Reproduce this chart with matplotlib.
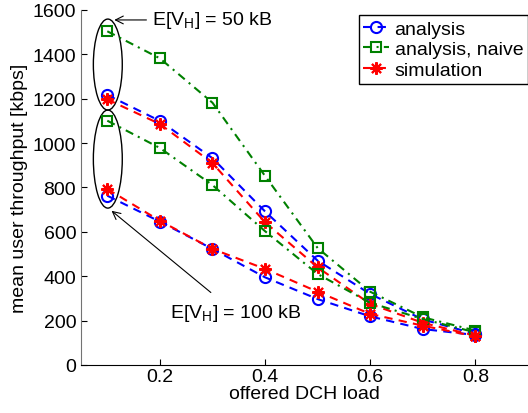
import matplotlib.pyplot as plt
from matplotlib.patches import Ellipse

plt.rcParams['font.family'] = ['Liberation Sans', 'DejaVu Sans']
plt.rcParams['font.size'] = 14

load = [0.1, 0.2, 0.3, 0.4, 0.5, 0.6, 0.7, 0.8]

# E[V_H] = 50 kB
ana50 = [1217, 1100, 932, 692, 470, 320, 205, 140]
naive50 = [1504, 1382, 1182, 852, 527, 330, 215, 155]
sim50 = [1197, 1086, 910, 643, 440, 275, 190, 132]

# E[V_H] = 100 kB
ana100 = [763, 646, 523, 395, 297, 219, 162, 135]
naive100 = [1101, 978, 811, 603, 410, 280, 207, 147]
sim100 = [793, 650, 523, 433, 330, 230, 177, 129]

blue = (0, 0, 1)
green = (0, 0.5, 0)
red = (1, 0, 0)
ast = (8, 2, 0)  # matlab style asterisk
dash = (0, (4, 3))
dashdot = (0, (4, 2.5, 1, 2.5))

fig = plt.figure(figsize=(5.28, 4.14), dpi=100)
ax = fig.add_axes([0.1534, 0.116, 0.8466, 0.8575])

for a, n, s, lab in [(ana50, naive50, sim50, True), (ana100, naive100, sim100, False)]:
    ax.plot(load, a, marker='o', ls=dash, color=blue, mfc='none', ms=8, mew=1.5, lw=1.5,
            label='analysis' if lab else None)
    ax.plot(load, n, marker='s', ls=dashdot, color=green, mfc='none', ms=7, mew=1.5, lw=1.5,
            label='analysis, naive' if lab else None)
    ax.plot(load, s, marker=ast, ls=dash, color=red, ms=9, mew=1.5, lw=1.5,
            label='simulation' if lab else None)

ax.add_patch(Ellipse((0.101, 1354), 0.055, 410, fill=False, ec='black', lw=1))
ax.add_patch(Ellipse((0.101, 928), 0.055, 442, fill=False, ec='black', lw=1))

ax.annotate('E[V$_\\mathregular{H}$] = 50 kB', xy=(0.108, 1555), xytext=(0.185, 1555),
            va='center', ha='left',
            arrowprops=dict(arrowstyle='->', color='black', lw=0.8))
ax.annotate('E[V$_\\mathregular{H}$] = 100 kB', xy=(0.104, 703), xytext=(0.219, 235),
            va='center', ha='left',
            arrowprops=dict(arrowstyle='->', color='black', lw=0.8, shrinkA=8))

ax.set_xlim(0.05, 0.9)
ax.set_ylim(0, 1600)
ax.set_xticks([0.2, 0.4, 0.6, 0.8])
ax.set_yticks(range(0, 1601, 200))
ax.tick_params(direction='in', length=4)
ax.tick_params(axis='x', pad=2.5)
ax.spines['top'].set_visible(False)
ax.spines['right'].set_visible(False)
ax.spines['left'].set_color('0.45')
ax.set_xlabel('offered DCH load', labelpad=0)
ax.set_ylabel('mean user throughput [kbps]', labelpad=3)

leg = ax.legend(loc='upper right', bbox_to_anchor=(1.0, 0.985), fancybox=False,
                framealpha=1, edgecolor='black', handlelength=1.3, handletextpad=0.3,
                borderpad=0.25, labelspacing=0.15, borderaxespad=0)
leg.get_frame().set_linewidth(1)

fig.savefig('out.png', dpi=100)
